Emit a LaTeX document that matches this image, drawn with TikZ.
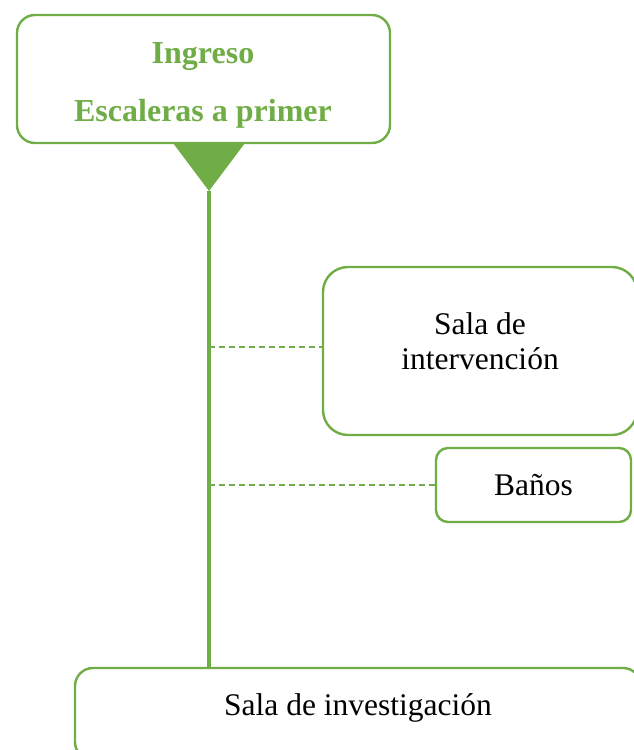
\documentclass[tikz,border=0pt]{standalone}
\usepackage{fontspec}
\setmainfont{Liberation Serif}
\usepackage{xcolor}
\usetikzlibrary{positioning,calc}
\definecolor{hojaverde}{HTML}{70AD47}
\tikzset{
    caja/.style={draw=hojaverde, line width=2.4pt, fill=white, rounded corners=#1, inner sep=0pt},
    caja/.default=18pt,
    rama/.style={draw=hojaverde, line width=1.4pt, dash pattern=on 6pt off 4pt},
    texto/.style={font=\fontsize{31.5}{35}\selectfont, align=center, text=black}
}

\begin{document}
\begin{tikzpicture}[x=1pt,y=-1pt]
    \useasboundingbox (0,0) rectangle (634,750);
    % Top box
    \node[caja, minimum width=373pt, minimum height=128pt] (ingreso) at (203.5,79) {};
    \node[font=\fontsize{32}{58}\selectfont\bfseries, text=hojaverde, align=center] (ingresotxt) at (203,85) {Ingreso\\Escaleras a primer};
    % Pointer and main line
    \coordinate (tip) at (209,191);
    \fill[hojaverde] (173,143) -- (245,143) -- (tip) -- cycle;
    
    \node[caja=25pt, minimum width=314pt, minimum height=168pt,
          label={[texto, yshift=10pt]center:{Sala de\\intervención}}] (interv) at (480,351) {};
    \node[caja=12pt, minimum width=195pt, minimum height=74pt, texto] (banos) at (533.5,485) {Baños};
    \node[caja=18pt, minimum width=566pt, minimum height=92pt,
          label={[texto, yshift=6pt]center:{Sala de investigación}}] (investig) at (358,714) {};
    
    \draw[hojaverde, line width=3.4pt] (tip) -- (tip |- investig.north);
    % Branches
    \draw[rama] ($(tip |- interv.west)+(0,-4)$) -- ($(interv.west)+(0,-4)$);
    \draw[rama] (tip |- banos.west) -- (banos.west);
\end{tikzpicture}
\end{document}
